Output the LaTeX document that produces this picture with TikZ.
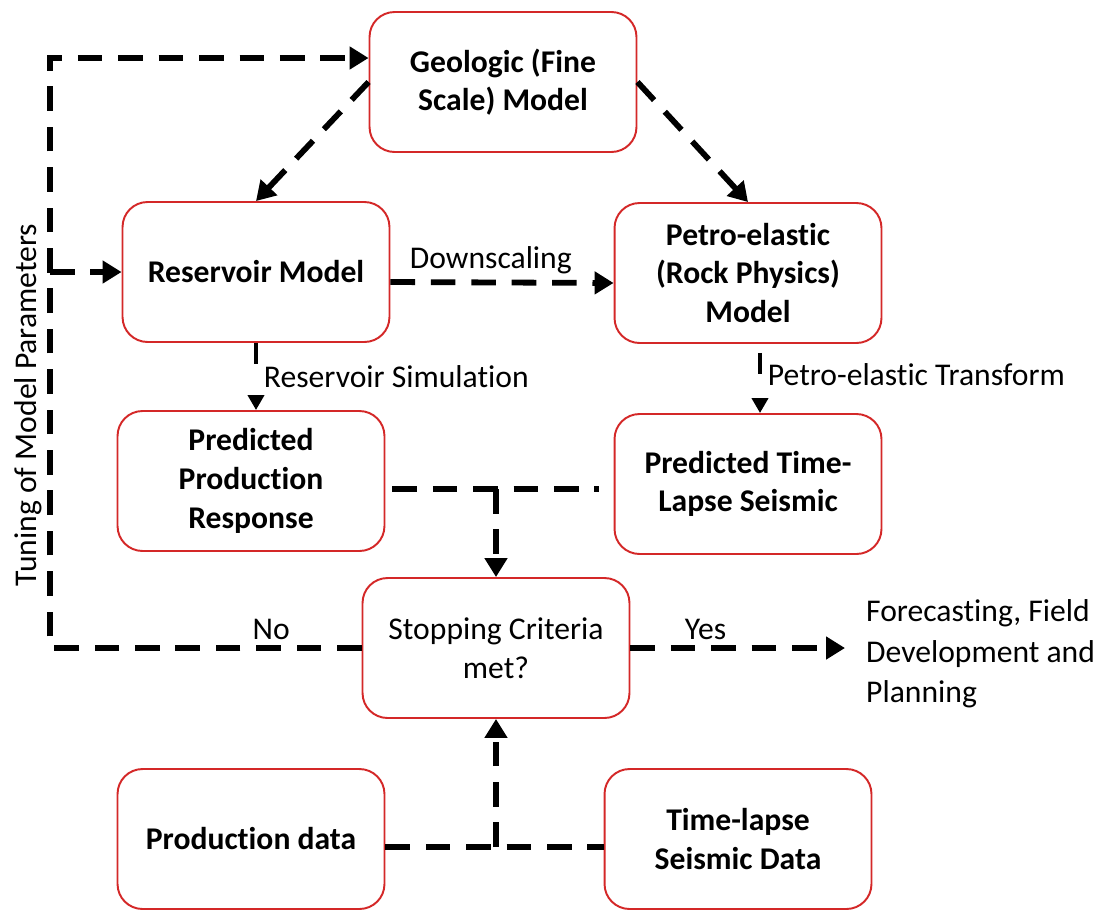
\documentclass[tikz,border=0pt]{standalone}
\usepackage{fontspec}
\setmainfont{Carlito}[Ligatures=NoCommon]
\usetikzlibrary{arrows.meta}
\definecolor{boxred}{RGB}{212,40,40}

\begin{document}
\begin{tikzpicture}[x=0.02cm, y=-0.02cm,
        box/.style={draw=boxred, line width=1.1pt, rounded corners=0.5cm, fill=white,
            minimum width=5.34cm, minimum height=2.8cm, align=center,
            font=\bfseries\fontsize{18}{22}\selectfont},
        lbl/.style={font=\fontsize{18}{22}\selectfont},
        link/.style={line width=3.3pt, dash pattern=on 14pt off 9pt},
        flow/.style={link, -{Triangle[length=0.38cm,width=0.44cm]}},
        thinflow/.style={line width=2.4pt, dash pattern=on 12pt off 20pt,
            -{Triangle[length=0.3cm,width=0.32cm]}}]
    \useasboundingbox (0,0) rectangle (1108,910);

    % model boxes
    \node[box] (geo) at (503,82) {Geologic (Fine\\Scale) Model};
    \node[box] (res) at (256,272) {Reservoir Model};
    \node[box] (pem) at (748,273) {Petro-elastic\\(Rock Physics)\\Model};
    \node[box] (ppr) at (251,481) {Predicted\\Production\\Response};
    \node[box] (pts) at (748,484) {Predicted Time-\\Lapse Seismic};
    \node[box, font=\fontsize{18}{22}\selectfont] (stop) at (496,648) {Stopping Criteria\\met?};
    \node[box] (pdat) at (251,839) {Production data};
    \node[box] (tsd) at (738,839) {Time-lapse\\Seismic Data};

    \node[lbl, align=left, anchor=west, font=\fontsize{18}{23}\selectfont] (fc) at (860,654)
        {Forecasting, Field\\Development and\\Planning};
    \node[lbl, rotate=90] (tune) at (28,405) {Tuning of Model Parameters};

    \coordinate (tl) at (50,58);
    \coordinate (ml) at (50,272);
    \coordinate (bl) at (50,648);
    \coordinate (jt) at (496,489);
    \coordinate (jb) at (496,847);

    % feedback loop
    \draw[flow] (stop.west) -- node[lbl, above, pos=0.29] {No} (bl) -- (tl) -- (geo.west |- tl);
    \draw[flow] (ml) -- (res.west);

    \draw[flow] (geo.west) -- (res.north);
    \draw[flow] (geo.east) -- (pem.north);
    \draw[flow] ([yshift=-0.2cm]res.east) -- node[lbl, above, pos=0.45] {Downscaling} ([yshift=-0.2cm]pem.west);

    \draw[thinflow] (res.south) -- node[lbl, right, pos=0.5] {Reservoir Simulation} (res.south |- ppr.north);
    \draw[thinflow, shorten <=0.18cm] ([xshift=0.24cm]pem.south) --
        node[lbl, right, pos=0.45] {Petro-elastic Transform} ([xshift=0.24cm]pem.south |- pts.north);

    % into the stopping test
    \draw[link, shorten <=0.14cm, shorten >=0.3cm] (ppr.east |- jt) -- (pts.west |- jt);
    \draw[flow] (jt) -- (stop.north);
    \draw[link] (pdat.east |- jb) -- (tsd.west |- jb);
    \draw[flow] (jb) -- (stop.south);

    \draw[flow] (stop.east) -- node[lbl, above, pos=0.35] {Yes} ([xshift=-0.3cm]fc.west |- stop.east);
\end{tikzpicture}
\end{document}
